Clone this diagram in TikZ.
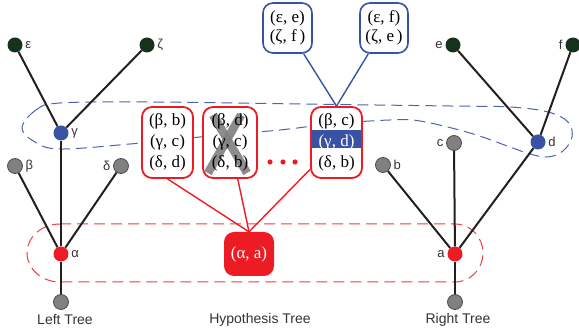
\documentclass[tikz,border=0pt]{standalone}
\usepackage{fontspec}
\setmainfont{Liberation Serif}
\setsansfont{Liberation Sans}
\definecolor{treeblack}{HTML}{231F20}
\definecolor{nodegray}{HTML}{808080}
\definecolor{graydark}{HTML}{4D4D4D}
\definecolor{dgreen}{HTML}{14321C}
\definecolor{nblue}{HTML}{3953A4}
\definecolor{nred}{HTML}{ED1C24}
\definecolor{labelc}{HTML}{333333}
\definecolor{dashblue}{HTML}{4A64B0}
\definecolor{dashred}{HTML}{EF3B42}
\begin{document}
\begin{tikzpicture}[x=1pt,y=-1pt,
  tn/.style={circle, minimum size=15pt, inner sep=0pt},
  gnode/.style={tn, fill=nodegray, draw=graydark, line width=0.8pt},
  kgnode/.style={tn, fill=dgreen},
  bnode/.style={tn, fill=nblue},
  rnode/.style={tn, fill=nred},
  every label/.style={font=\sffamily\fontsize{13}{13}\selectfont, text=labelc, inner sep=1pt},
  label distance=1.5pt,
  edge/.style={draw=treeblack, line width=2pt},
  boxtext/.style={font=\fontsize{17}{21}\selectfont, align=center, inner sep=0pt, text=black},
  redbox/.style={boxtext, fill=white, draw=nred, line width=1.8pt, rounded corners=10pt, minimum height=71pt},
  bluebox/.style={boxtext, fill=white, draw=nblue, line width=1.6pt, rounded corners=10pt, minimum height=50pt, font=\fontsize{17}{19.5}\selectfont},
  title/.style={font=\sffamily\fontsize{14}{14}\selectfont, text=labelc},
  bluelink/.style={draw=nblue, line width=1.4pt},
  redlink/.style={draw=nred, line width=1.4pt},
  crossout/.style={draw=nodegray, opacity=0.9, line width=8.5pt, sharp corners}
]
\useasboundingbox (0,0) rectangle (579,336);

% dashed groupings
\draw[dashblue, line width=1pt, dash pattern=on 11pt off 6pt]
  plot[smooth cycle, tension=0.6] coordinates {
  (22,128) (36,110) (60,103) (150,102) (300,104) (450,106) (510,107)
  (548,112) (568,122) (572,137) (563,151) (548,157) (530,154) (510,147)
  (470,133) (420,121) (390,120) (330,124) (280,130) (200,137) (130,144)
  (60,149) (35,142)};
\draw[dashred, line width=1pt, dash pattern=on 11pt off 6pt]
  (60,224) -- (455,224) arc[start angle=90, end angle=-90, x radius=28, y radius=-29]
  -- (60,282) arc[start angle=270, end angle=90, x radius=33, y radius=-29];

% left tree
\node[kgnode, label=right:ε] (eps) at (15,45) {};
\node[kgnode, label=right:ζ] (zeta) at (147,45) {};
\node[bnode, label=right:γ] (gam) at (61,133) {};
\node[gnode, label=right:β] (bet) at (15,166) {};
\node[gnode, label=left:δ] (del) at (121,166) {};
\node[rnode, label=right:α] (alp) at (61,254) {};
\node[gnode] (lroot) at (61,302) {};
\draw[edge] (gam) -- (eps);
\draw[edge] (gam) -- (zeta);
\draw[edge] (alp) -- (gam);
\draw[edge] (alp) -- (bet);
\draw[edge] (alp) -- (del);
\draw[edge] (alp) -- (lroot);

% right tree
\node[kgnode, label=left:e] (e) at (453,45) {};
\node[kgnode, label=left:f] (f) at (573,45) {};
\node[bnode, label=right:d] (d) at (538,142) {};
\node[gnode, label=left:c] (c) at (454,143) {};
\node[gnode, label=right:b] (b) at (383,165) {};
\node[rnode, label=left:a] (a) at (455,254) {};
\node[gnode] (rroot) at (455,302) {};
\draw[edge] (d) -- (e);
\draw[edge] (d) -- (f);
\draw[edge] (a) -- (d);
\draw[edge] (a) -- (c);
\draw[edge] (a) -- (b);
\draw[edge] (a) -- (rroot);

% hypothesis tree
\node[redbox, minimum width=51pt] (b1) at (167.5,142.5) {(β, b)\\(γ, c)\\(δ, d)};
\node[redbox, minimum width=54pt,
  path picture={
    \draw[crossout] ([shift={(-17,-27.5)}]path picture bounding box.center) -- ([shift={(17,30.5)}]path picture bounding box.center);
    \draw[crossout] ([shift={(11,-27.5)}]path picture bounding box.center) -- ([shift={(-22,30.5)}]path picture bounding box.center);}]
  (b2) at (230,142.5) {(β, d)\\(γ, c)\\(δ, b)};
\node[redbox, minimum width=51pt,
  path picture={\fill[nblue, sharp corners] ([yshift=12.5pt]path picture bounding box.west) rectangle ([yshift=-5.5pt]path picture bounding box.east);}]
  (b3) at (336.5,142.5) {(β, c)\\\textcolor{white}{(γ, d)}\\(δ, b)};
\fill[nred] (270,162) circle[radius=2.6];
\fill[nred] (283,162) circle[radius=2.6];
\fill[nred] (295,162) circle[radius=2.6];

\node[bluebox, minimum width=49pt] (be1) at (287.5,28) {(ε, e)\\(ζ, f\,)};
\node[bluebox, minimum width=48pt] (be2) at (384,28) {(ε, f)\\(ζ, e\,)};
\draw[bluelink] (b3.north) -- (be1);
\draw[bluelink] (b3.north) -- (be2);

\node[boxtext, fill=nred, rounded corners=10pt, minimum width=50pt, minimum height=44pt, text=white] (r) at (249,254) {(α, a)};
\draw[redlink] (r.north) -- (b1.south);
\draw[redlink] (r.north) -- (b2);
\draw[redlink] (r.north) -- (b3);

% titles
\node[title] (lt) at (65,320) {Left Tree};
\node[title] (ht) at (260,320) {Hypothesis Tree};
\node[title] (rt) at (458,320) {Right Tree};
\end{tikzpicture}
\end{document}
